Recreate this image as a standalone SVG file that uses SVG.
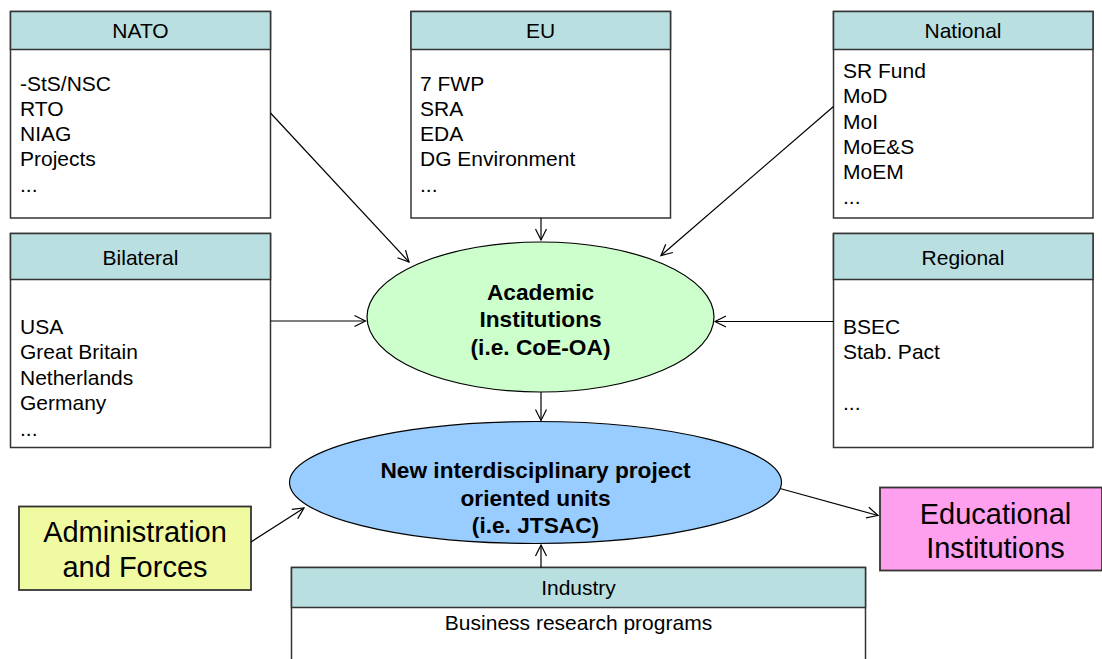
<svg xmlns="http://www.w3.org/2000/svg" width="1102" height="659" viewBox="0 0 1102 659">
<defs>
<marker id="arr" markerUnits="userSpaceOnUse" markerWidth="14" markerHeight="14" viewBox="0 0 14 14" refX="12" refY="7" orient="auto">
<path d="M1,1.5 L12,7 L1,12.5" fill="none" stroke="#000" stroke-width="1.2"/>
</marker>
</defs>
<style>
.box{fill:#fff;stroke:#333;stroke-width:1.5}
.hdr{fill:#b9dfe1;stroke:#333;stroke-width:1.5}
.t{font-family:"Liberation Sans",Arial,sans-serif;font-size:21px;fill:#000}
.c{text-anchor:middle}
.b{font-family:"Liberation Sans",Arial,sans-serif;font-size:22.7px;font-weight:bold;fill:#000;text-anchor:middle}
.big{font-family:"Liberation Sans",Arial,sans-serif;font-size:29px;fill:#000;text-anchor:middle}
.conn line{stroke:#000;stroke-width:1.2;marker-end:url(#arr)}
</style>
<rect width="1102" height="659" fill="#fff"/>

<g id="nato">
<rect class="box" x="10.5" y="11.5" width="260" height="206.5"/>
<rect class="hdr" x="10.5" y="11.5" width="260" height="38"/>
<text class="t c" x="140.5" y="38">NATO</text>
<text class="t" x="20" y="90.5">-StS/NSC</text>
<text class="t" x="20" y="115.5">RTO</text>
<text class="t" x="20" y="140.5">NIAG</text>
<text class="t" x="20" y="166">Projects</text>
<text class="t" x="20" y="191.5">...</text>
</g>

<g id="eu">
<rect class="box" x="411" y="11.5" width="259.5" height="206.5"/>
<rect class="hdr" x="411" y="11.5" width="259.5" height="38"/>
<text class="t c" x="540.5" y="38">EU</text>
<text class="t" x="420" y="90.5">7 FWP</text>
<text class="t" x="420" y="115.5">SRA</text>
<text class="t" x="420" y="140.5">EDA</text>
<text class="t" x="420" y="166">DG Environment</text>
<text class="t" x="420" y="191.5">...</text>
</g>

<g id="national">
<rect class="box" x="833.5" y="11.5" width="259.5" height="206.5"/>
<rect class="hdr" x="833.5" y="11.5" width="259.5" height="38"/>
<text class="t c" x="963" y="38">National</text>
<text class="t" x="843" y="78">SR Fund</text>
<text class="t" x="843" y="103.3">MoD</text>
<text class="t" x="843" y="128.6">MoI</text>
<text class="t" x="843" y="153.9">MoE&amp;S</text>
<text class="t" x="843" y="179.2">MoEM</text>
<text class="t" x="843" y="204">...</text>
</g>

<g id="bilateral">
<rect class="box" x="10.5" y="233.5" width="260" height="214"/>
<rect class="hdr" x="10.5" y="233.5" width="260" height="46"/>
<text class="t c" x="140.5" y="265">Bilateral</text>
<text class="t" x="20" y="333.5">USA</text>
<text class="t" x="20" y="359">Great Britain</text>
<text class="t" x="20" y="384.5">Netherlands</text>
<text class="t" x="20" y="410">Germany</text>
<text class="t" x="20" y="435.5">...</text>
</g>

<g id="regional">
<rect class="box" x="833.5" y="233.5" width="259.5" height="214"/>
<rect class="hdr" x="833.5" y="233.5" width="259.5" height="46"/>
<text class="t c" x="963" y="265">Regional</text>
<text class="t" x="843" y="333.5">BSEC</text>
<text class="t" x="843" y="359">Stab. Pact</text>
<text class="t" x="843" y="410">...</text>
</g>

<g id="academic">
<ellipse cx="540.5" cy="317" rx="173.5" ry="75" fill="#ccffcc" stroke="#000" stroke-width="1.2"/>
<text class="b" x="540.5" y="300">Academic</text>
<text class="b" x="540.5" y="327">Institutions</text>
<text class="b" x="540.5" y="354.5">(i.e. CoE-OA)</text>
</g>

<g id="newunits">
<ellipse cx="535.5" cy="482.5" rx="246" ry="61" fill="#99ccff" stroke="#000" stroke-width="1.2"/>
<text class="b" x="535.5" y="478">New interdisciplinary project</text>
<text class="b" x="535.5" y="505.5">oriented units</text>
<text class="b" x="535.5" y="533">(i.e. JTSAC)</text>
</g>

<g id="admin">
<rect x="19" y="506.5" width="232" height="83.5" fill="#f0faa0" stroke="#333" stroke-width="1.8"/>
<text class="big" x="135" y="542">Administration</text>
<text class="big" x="135" y="577">and Forces</text>
</g>

<g id="educational">
<rect x="880" y="487.5" width="222" height="83" fill="#ffa0ee" stroke="#333" stroke-width="1.8"/>
<text class="big" x="995.5" y="523.5">Educational</text>
<text class="big" x="995.5" y="558">Institutions</text>
</g>

<g id="industry">
<rect class="box" x="291.5" y="567.5" width="574" height="100"/>
<rect class="hdr" x="291.5" y="567.5" width="574" height="40"/>
<text class="t c" x="578.5" y="595">Industry</text>
<text class="t c" x="578.5" y="630">Business research programs</text>
</g>

<g id="connectors" class="conn">
<line x1="270.5" y1="113" x2="409" y2="262"/>
<line x1="541" y1="218" x2="541" y2="240"/>
<line x1="833.5" y1="106.5" x2="661" y2="255.5"/>
<line x1="270.5" y1="321" x2="365.5" y2="321"/>
<line x1="833.5" y1="321.5" x2="715" y2="321.5"/>
<line x1="541" y1="392" x2="541" y2="420.5"/>
<line x1="251" y1="542" x2="304" y2="508"/>
<line x1="780" y1="488.5" x2="878" y2="515.5"/>
<line x1="541" y1="567.5" x2="541" y2="545"/>
</g>
</svg>
